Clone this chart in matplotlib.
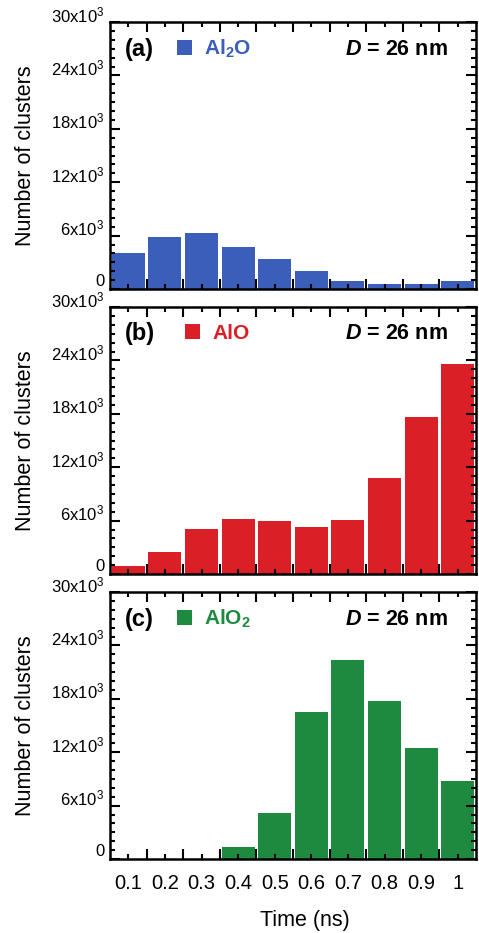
import numpy as np
import matplotlib
matplotlib.use("Agg")
import matplotlib.pyplot as plt
from matplotlib.ticker import FixedLocator, MultipleLocator, FuncFormatter

plt.rcParams['font.family'] = ['Liberation Sans', 'DejaVu Sans']
plt.rcParams['mathtext.fontset'] = 'custom'
plt.rcParams['mathtext.rm'] = 'Liberation Sans'
plt.rcParams['mathtext.bf'] = 'Liberation Sans:bold'
plt.rcParams['mathtext.it'] = 'Liberation Sans:italic:bold'

# ---- data ----
times = [0.1, 0.2, 0.3, 0.4, 0.5, 0.6, 0.7, 0.8, 0.9, 1.0]
time_labels = ['0.1', '0.2', '0.3', '0.4', '0.5', '0.6', '0.7', '0.8', '0.9', '1']
yticks = [0, 6000, 12000, 18000, 24000, 30000]
al2o = [4000, 5800, 6250, 4750, 3400, 2050, 900, 520, 520, 930]
alo = [900, 2430, 5080, 6160, 5980, 5270, 6020, 10760, 17630, 23650]
alo2 = [0, 0, 0, 1310, 5120, 16500, 22400, 17770, 12490, 8790]

panels = [
    ('(a)', r'Al$_\mathbf{2}$O', al2o, '#3A5EBA', 0.183, 0.898),
    ('(b)', 'AlO', alo, '#DB1F26', 0.205, 0.902),
    ('(c)', r'AlO$_\mathbf{2}$', alo2, '#1E8A3F', 0.183, 0.898),
]

W, H = 479, 933
fig = plt.figure(figsize=(W / 100, H / 100), dpi=100)

left = 110 / W
width = 366 / W
tops = [22, 307, 592]
hpx = 267

def yfmt(v, pos):
    if abs(v) < 1e-9:
        return '0'
    return '%dx10$^3$' % int(round(v / 1000))

axes = []
for i, (plab, name, vals, col, lx, ly) in enumerate(panels):
    bottom = 1 - (tops[i] + hpx) / H
    ax = fig.add_axes([left, bottom, width, hpx / H])
    axes.append(ax)
    bars = ax.bar(times, vals, width=0.09, color=col, edgecolor='none')
    ax.set_xlim(0.05, 1.05)
    ax.set_ylim(0, 30000)
    ax.set_xticks(times)
    ax.xaxis.set_minor_locator(FixedLocator(np.arange(0.15, 1.0, 0.1)))
    ax.set_yticks(yticks)
    ax.yaxis.set_minor_locator(MultipleLocator(1000))
    ax.yaxis.set_major_formatter(FuncFormatter(yfmt))
    for s in ax.spines.values():
        s.set_linewidth(1.8)
    ax.tick_params(which='both', direction='in', top=True, right=True, width=1.5)
    ax.tick_params(axis='x', which='major', length=3.5, pad=11, labelsize=14.5)
    ax.tick_params(axis='x', which='minor', length=7)
    ax.tick_params(axis='y', which='major', length=7, pad=4, labelsize=12)
    ax.tick_params(axis='y', which='minor', length=3.5)
    if i < 2:
        ax.tick_params(axis='x', labelbottom=False)
    else:
        ax.set_xticklabels(time_labels)
    ax.set_ylabel('Number of clusters', fontsize=15.5)
    ax.yaxis.set_label_coords(-0.23, 0.5)
    ax.yaxis.label.set_va('center')

    ax.text(0.04, ly, plab, transform=ax.transAxes, fontsize=17, fontweight='bold',
            ha='left', va='center')
    ax.text(0.923, ly, r'$\mathit{D}$ = 26 nm', transform=ax.transAxes, fontsize=15.5,
            fontweight='bold', ha='right', va='center')
    leg = ax.legend([bars], [name], loc='center left', bbox_to_anchor=(lx, ly),
                    frameon=False, handlelength=0.72, handleheight=0.72,
                    handletextpad=0.6, borderpad=0, borderaxespad=0,
                    prop=dict(weight='bold', size=15))
    for t in leg.get_texts():
        t.set_color(col)

axes[2].set_xlabel('Time (ns)', fontsize=15.5)
axes[2].xaxis.set_label_coords(0.533, -0.19)
axes[2].xaxis.label.set_va('top')

fig.canvas.draw()
for ax in axes:
    for tick in ax.yaxis.get_major_ticks():
        lab = tick.label1
        lab.set_va('bottom' if lab.get_text() == '0' else 'baseline')

fig.savefig('out.png', dpi=100)
